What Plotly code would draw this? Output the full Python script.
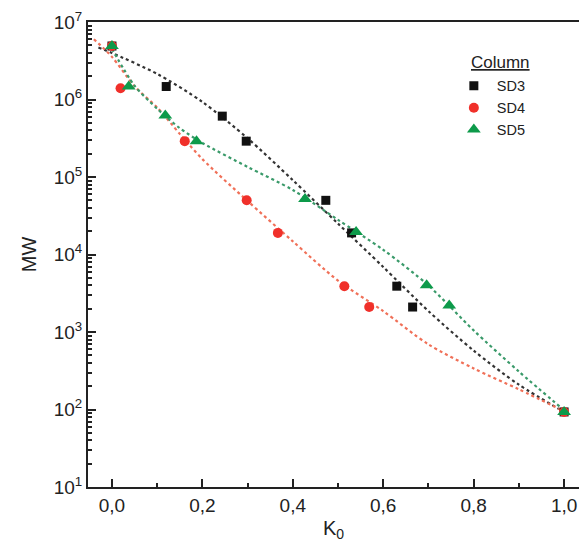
import plotly.graph_objects as go

# ---- data ----
series_names = ["SD3", "SD4", "SD5"]
legend_title = "Column"

k_sd3 = [0.0, 0.12, 0.244, 0.297, 0.473, 0.53, 0.63, 0.665, 1.0]
mw_sd3 = [4.9e6, 1.47e6, 6.1e5, 2.9e5, 5.0e4, 1.9e4, 3.9e3, 2.1e3, 93]

k_sd4 = [0.0, 0.019, 0.161, 0.298, 0.367, 0.514, 0.569, 1.0]
mw_sd4 = [4.9e6, 1.4e6, 2.9e5, 5.0e4, 1.9e4, 3.9e3, 2.1e3, 93]

k_sd5 = [0.0, 0.037, 0.118, 0.187, 0.427, 0.54, 0.696, 0.746, 1.0]
mw_sd5 = [4.9e6, 1.47e6, 6.2e5, 2.9e5, 5.2e4, 1.95e4, 4.0e3, 2.2e3, 93]

# dotted fit curves
fit_k_sd3 = [-0.03, 0.0, 0.1, 0.2, 0.3, 0.4, 0.5, 0.6, 0.7, 0.8, 0.9, 1.0]
fit_mw_sd3 = [4.68e6, 3.98e6, 2.14e6, 9.3e5, 3.16e5, 9.1e4, 2.5e4, 6.9e3, 1.86e3, 575, 209, 93]

fit_k_sd4 = [-0.04, 0.0, 0.05, 0.1, 0.15, 0.2, 0.3, 0.4, 0.5, 0.6, 0.7, 0.8, 0.9, 1.0]
fit_mw_sd4 = [6.0e6, 3.55e6, 1.48e6, 7.9e5, 3.6e5, 1.7e5, 4.9e4, 1.48e4, 4.6e3, 1.86e3, 692, 339, 182, 95]

fit_k_sd5 = [0.0, 0.05, 0.1, 0.15, 0.2, 0.3, 0.4, 0.5, 0.6, 0.7, 0.8, 0.9, 1.0]
fit_mw_sd5 = [4.5e6, 1.51e6, 7.6e5, 4.27e5, 2.75e5, 1.35e5, 6.8e4, 2.8e4, 1.15e4, 3.98e3, 1.05e3, 309, 98]

y_tickvals = [1e1, 1e2, 1e3, 1e4, 1e5, 1e6, 1e7]
y_ticktext = ["10<sup>1</sup>", "10<sup>2</sup>", "10<sup>3</sup>", "10<sup>4</sup>",
              "10<sup>5</sup>", "10<sup>6</sup>", "10<sup>7</sup>"]
x_tickvals = [0.0, 0.2, 0.4, 0.6, 0.8, 1.0]
x_ticktext = ["0,0", "0,2", "0,4", "0,6", "0,8", "1,0"]

FONT = "Liberation Sans, Arial, sans-serif"

marker_colors = ["#111111", "#f0302a", "#0d9a4a"]
line_colors = ["#333333", "#f07058", "#3a9a6a"]
symbols = ["square", "circle", "triangle-up"]
sizes = [9, 10, 12]

fig = go.Figure()

fits = [(fit_k_sd3, fit_mw_sd3), (fit_k_sd4, fit_mw_sd4), (fit_k_sd5, fit_mw_sd5)]
for (fk, fm), lc in zip(fits, line_colors):
    fig.add_trace(go.Scatter(x=fk, y=fm, mode="lines", showlegend=False,
                             line=dict(color=lc, width=2.2, dash="dot", shape="spline", smoothing=0.8),
                             hoverinfo="skip"))

pts = [(k_sd3, mw_sd3), (k_sd4, mw_sd4), (k_sd5, mw_sd5)]
for (k, m), name, mc, sym, sz in zip(pts, series_names, marker_colors, symbols, sizes):
    fig.add_trace(go.Scatter(x=k, y=m, mode="markers", name=name,
                             marker=dict(color=mc, symbol=sym, size=sz, line=dict(width=0))))

fig.update_layout(
    width=579, height=548,
    margin=dict(l=88, r=0, t=22, b=61, autoexpand=False),
    paper_bgcolor="white", plot_bgcolor="white",
    font=dict(family=FONT, color="#222222"),
    legend=dict(x=0.739, y=0.897, xanchor="left", yanchor="top",
                bgcolor="rgba(0,0,0,0)",
                font=dict(size=14.5, family=FONT),
                itemwidth=36, tracegroupgap=0),
    annotations=[dict(text="<u>" + legend_title + "</u>", xref="paper", yref="paper",
                      x=(500 - 88) / 491, y=1 - (62 - 22) / 465,
                      xanchor="center", yanchor="middle", showarrow=False,
                      font=dict(size=17, family=FONT, color="#222222"))],
)

fig.update_xaxes(
    range=[-0.053, 1.033], automargin=False,
    tickvals=x_tickvals, ticktext=x_ticktext,
    ticks="inside", ticklen=8, tickwidth=2, tickcolor="#222",
    minor=dict(ticks="inside", ticklen=4, tickwidth=2, tickcolor="#222", dtick=0.1, tick0=0),
    showline=True, linewidth=2, linecolor="#222", mirror=True,
    showgrid=False, zeroline=False,
    tickfont=dict(size=19, family=FONT),
    title=dict(text="K<sub>0</sub>", font=dict(size=20, family=FONT), standoff=6),
)
fig.update_yaxes(
    type="log", range=[1, 7], automargin=False,
    tickvals=y_tickvals, ticktext=y_ticktext,
    ticks="inside", ticklen=8, tickwidth=2, tickcolor="#222",
    minor=dict(ticks="inside", ticklen=4, tickwidth=1.5, tickcolor="#222", dtick="D1"),
    showline=True, linewidth=2, linecolor="#222", mirror=False,
    showgrid=False, zeroline=False,
    tickfont=dict(size=19, family=FONT),
    title=dict(text="MW", font=dict(size=20, family=FONT), standoff=12),
)

fig.write_html("out.html", config={"displayModeBar": False},
               post_script="document.body.style.margin='0';document.body.style.overflow='hidden';")
